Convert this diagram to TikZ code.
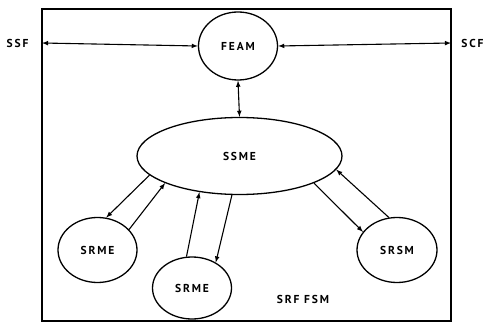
\documentclass[tikz,border=0pt]{standalone}
\usepackage{fontspec}
\setmainfont{PT Sans}[LetterSpace=16]
\usetikzlibrary{shapes.geometric}

\begin{document}
\begin{tikzpicture}[
        x=1pt, y=-1pt,
        font=\fontsize{11.5}{13}\selectfont\bfseries,
        state/.style={draw, ellipse, line width=1.3pt, inner sep=0pt, minimum width=79pt, minimum height=65pt},
        link/.style={draw, line width=1.1pt, -latex},
        both/.style={link, latex-latex}
    ]
    \useasboundingbox (0,0) rectangle (497,323);
    \draw[line width=1.3pt] (42,9) rectangle (451,321);
    \node[state, minimum height=68pt] (feam) at (238,46) {FEAM};
    \node[state, minimum width=205pt, minimum height=77pt] (ssme) at (239.5,156) {SSME};
    \node[state] (srmeA) at (97.5,250) {SRME};
    \node[state, minimum height=62pt] (srmeB) at (192,288) {SRME};
    \node[state, minimum width=80pt] (srsm) at (397,250) {SRSM};
    \node (ssf) at (17.5,43) {SSF};
    \node (scf) at (472.5,43) {SCF};
    \node (fsm) at (303,299) {SRF FSM};
    \coordinate (ssfend) at (42,43);
    \coordinate (scfend) at (451,43);
    \path[both] (ssfend) -- (feam.west);
    \path[both] (feam.east) -- (scfend);
    \path[both] (feam.south) -- (ssme.north);
    \path[link] (ssme.192) -- (srmeA.75);
    \path[link] (srmeA.33) -- (ssme.200);
    \path[link] (srmeB.100) -- (ssme.222);
    \path[link] (ssme.259) -- (srmeB.47);
    \path[link] (ssme.340) -- (srsm.152);
    \path[link] (srsm.104) -- (ssme.352);
\end{tikzpicture}
\end{document}
